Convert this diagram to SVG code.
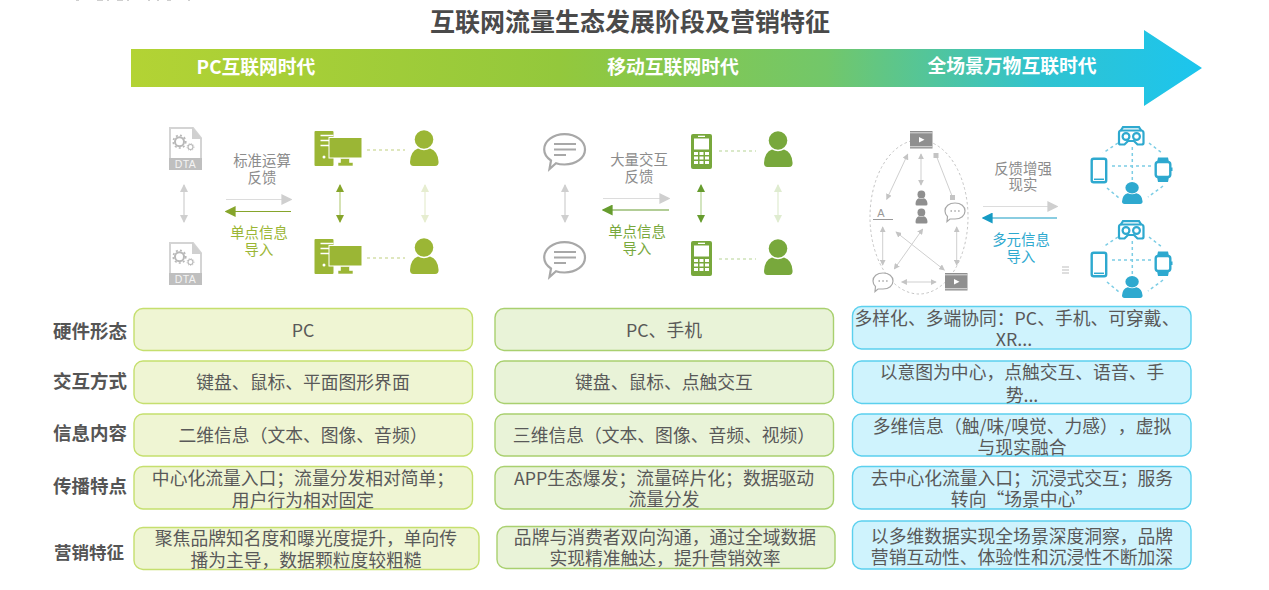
<svg xmlns="http://www.w3.org/2000/svg" width="1269" height="590" viewBox="0 0 1269 590">
<style>
text{font-family:"Noto Sans CJK SC","Noto Sans",sans-serif;text-anchor:middle;text-spacing-trim:space-all}
.title{font-size:25px;font-weight:700;fill:#4a4a4a}
.band{font-size:18.800px;font-weight:700;fill:#fff}
.lab{font-size:18.500px;font-weight:700;fill:#555}
.cell{font-size:17.800px;fill:#595959;transform:translateY(.6px)}
.cap{font-size:14.400px;fill:#8c8c8c}
.g1{fill:#9bb635}.g2{fill:#78a83c}.b{fill:#2ea9cf}
.capg1{font-size:14.400px;fill:#9bb635}.capg2{font-size:14.400px;fill:#78a83c}.capb{font-size:14.400px;fill:#2ea9cf}
.rg{fill:#eff5d3;stroke:#c5df6e;stroke-width:1.400}
.rm{fill:#e9f3d8;stroke:#a9d06f;stroke-width:1.400}
.rb{fill:#cff3fd;stroke:#5bd0ee;stroke-width:1.400}
.ln{fill:none;stroke-width:1.200}
.dot{fill:none;stroke-width:1.200;stroke-dasharray:3 3}
.dotb{fill:none;stroke:#7ccde5;stroke-width:1.500;stroke-dasharray:3 3}
.blue{fill:none;stroke:#2ea9cf;stroke-width:2.200}
</style>
<defs>
<linearGradient id="bandGrad" x1="131" x2="1202" y1="0" y2="0" gradientUnits="userSpaceOnUse">
<stop offset="0" stop-color="#b3d334"/><stop offset=".4" stop-color="#93c83c"/><stop offset=".65" stop-color="#72c76a"/><stop offset=".85" stop-color="#30c3d0"/><stop offset="1" stop-color="#1cc5ee"/>
</linearGradient>
<marker id="mGray" markerUnits="userSpaceOnUse" markerWidth="11" markerHeight="11" refX="7" refY="4" viewBox="0 0 8 8" orient="auto-start-reverse"><path d="M0 0L8 4L0 8Z" fill="#cfcfcf"/></marker>
<marker id="vGray" markerUnits="userSpaceOnUse" markerWidth="8" markerHeight="8" refX="7" refY="4" viewBox="0 0 8 8" orient="auto-start-reverse"><path d="M0 0L8 4L0 8Z" fill="#cfcfcf"/></marker>
<marker id="mSmall" markerUnits="userSpaceOnUse" markerWidth="6" markerHeight="6" refX="7" refY="4" viewBox="0 0 8 8" orient="auto-start-reverse"><path d="M0 0L8 4L0 8Z" fill="#c4c4c4"/></marker>
<marker id="mG1" markerUnits="userSpaceOnUse" markerWidth="11" markerHeight="11" refX="7" refY="4" viewBox="0 0 8 8" orient="auto-start-reverse"><path d="M0 0L8 4L0 8Z" fill="#86a52b"/></marker>
<marker id="vG1" markerUnits="userSpaceOnUse" markerWidth="8" markerHeight="8" refX="7" refY="4" viewBox="0 0 8 8" orient="auto-start-reverse"><path d="M0 0L8 4L0 8Z" fill="#86a52b"/></marker>
<marker id="vG1L" markerUnits="userSpaceOnUse" markerWidth="8" markerHeight="8" refX="7" refY="4" viewBox="0 0 8 8" orient="auto-start-reverse"><path d="M0 0L8 4L0 8Z" fill="#e6edd0"/></marker>
<marker id="mG2" markerUnits="userSpaceOnUse" markerWidth="11" markerHeight="11" refX="7" refY="4" viewBox="0 0 8 8" orient="auto-start-reverse"><path d="M0 0L8 4L0 8Z" fill="#669c2e"/></marker>
<marker id="vG2" markerUnits="userSpaceOnUse" markerWidth="8" markerHeight="8" refX="7" refY="4" viewBox="0 0 8 8" orient="auto-start-reverse"><path d="M0 0L8 4L0 8Z" fill="#669c2e"/></marker>
<marker id="vG2L" markerUnits="userSpaceOnUse" markerWidth="8" markerHeight="8" refX="7" refY="4" viewBox="0 0 8 8" orient="auto-start-reverse"><path d="M0 0L8 4L0 8Z" fill="#dfecd0"/></marker>
<marker id="mB" markerUnits="userSpaceOnUse" markerWidth="11" markerHeight="11" refX="7" refY="4" viewBox="0 0 8 8" orient="auto-start-reverse"><path d="M0 0L8 4L0 8Z" fill="#169bc4"/></marker>
<g id="gear"><circle r="4.500" fill="none" stroke="#b8b8b8" stroke-width="2"/><circle r="6.300" fill="none" stroke="#b8b8b8" stroke-width="1.600" stroke-dasharray="2 2.200"/></g>
<g id="doc">
<path d="M1 1H24L32 11V42H1Z" fill="#fff" stroke="#d4d4d4" stroke-width="2"/>
<path d="M23 0L33 12H23Z" fill="#d0d0d0"/>
<rect y="31" width="33" height="12" fill="#bfbfbf"/>
<use href="#gear" x="10.500" y="14.700"/>
<use href="#gear" transform="translate(21.500 20) scale(.55)"/>
<text x="16.500" y="41.200" style="font-family:'Liberation Sans',sans-serif;font-size:10.500px;letter-spacing:.4px;fill:#f4f4f4">DTA</text>
</g>
<g id="pc" class="g1">
<rect width="19" height="35" rx="1"/>
<path d="M6 4.500H19M6 9.500H19M6 14.500H15" stroke="#fff" stroke-width="1.600" fill="none"/>
<rect x="14.500" y="6.500" width="33" height="20.500" fill="#9bb635" stroke="#fff" stroke-width="1"/>
<path d="M26 27.500H35V31.500H38.500V35H23.500V31.500H26Z" stroke="#fff" stroke-width=".6"/>
<circle cx="9.500" cy="26" r="1.500" fill="#fff"/>
</g>
<g id="person">
<circle cx="14" cy="9.500" r="9.300"/>
<path d="M8 18.500Q14 22 20 18.500Q28 21 28.600 32Q28.600 36 25 36H3.500Q0 36 0 32Q.5 21 8 18.500Z"/>
</g>
<g id="phone">
<rect width="21" height="35" rx="2" class="g2"/>
<rect x="3" y="4.500" width="15" height="11" fill="#fff"/>
<rect x="7" y="1.700" width="7" height="1.300" fill="#fff"/>
<path d="M3 18h4v3h-4zM8.500 18h4v3h-4zM14 18h4v3h-4zM3 22.500h4v3h-4zM8.500 22.500h4v3h-4zM14 22.500h4v3h-4zM3 27h4v3h-4zM8.500 27h4v3h-4zM14 27h4v3h-4z" fill="#fff"/>
</g>
<g id="bubble">
<path d="M21.500 1.200C33 1.200 42 8 42 16.500C42 25 33 31.500 21.500 31.500C18 31.500 15 31 13 30.200L6.500 36L8 27.500C3.500 24.500 1.200 20.800 1.200 16.500C1.200 8 10 1.200 21.500 1.200Z" fill="#fff" stroke="#a8a8a8" stroke-width="2.200"/>
<path d="M11 11H33M11 16.500H33M11 22H23" stroke="#a8a8a8" stroke-width="2" fill="none"/>
</g>
<g id="video">
<rect width="22.500" height="17.500" fill="#8f8f8f"/>
<path d="M0 1.800H22.500M0 15.700H22.500" stroke="#dcdcdc" stroke-width="1"/>
<path d="M9 6L14.500 8.800L9 11.500Z" fill="#fff"/>
</g>
<g id="chat">
<path d="M11 1C17 1 21 4.500 21 9C21 13.500 17 17 11 17L6 17L3 19.500L3.500 14.500C1.800 13 1 11 1 9C1 4.500 5 1 11 1Z" fill="#fff" stroke="#a8a8a8" stroke-width="1.200"/>
<path d="M6.500 9H8M10.300 9H11.800M14.100 9H15.600" stroke="#a8a8a8" stroke-width="1.500" fill="none"/>
</g>
<g id="xr">
<path d="M1120.500 131L1123 127.100H1139L1141.500 131" class="blue"/>
<path d="M1121 130.500H1141Q1143.500 130.500 1143.500 133V143Q1143.500 144.500 1141.500 144.500H1137.500L1134 141H1128L1124.500 144.500H1120.500Q1119 144.500 1119 143V133Q1119 130.500 1121 130.500Z" class="blue"/>
<circle cx="1126" cy="136.500" r="3.400" class="blue"/>
<circle cx="1136.500" cy="136.500" r="3.400" class="blue"/>
<path d="M1118 143L1103 153M1149 143L1162 153M1107 188L1119 198M1163 186L1148 197M1132.300 147V182M1112 166H1153" class="dotb"/>
<rect x="1091.700" y="158.700" width="14.500" height="23.500" rx="2" fill="#fff" stroke="#2ea9cf" stroke-width="2.400"/>
<path d="M1094 179.300H1104" stroke="#2ea9cf" stroke-width="1.500"/>
<path d="M1158 157.500H1168L1169 162H1157ZM1157 177H1169L1168 182H1158Z" class="b"/>
<rect x="1155.700" y="162" width="14.600" height="15" rx="2.500" fill="#fff" stroke="#2ea9cf" stroke-width="2.400"/>
<path d="M1171 167.500H1172.500V171H1171Z" class="b"/>
<use href="#person" transform="translate(1122 182) scale(.72 .61)" class="b"/>
</g>
</defs>

<path id="top-edge-specks" d="M76 0h3v1h-3zM97 0h6v1h-6zM107 0h2v1h-2zM117 0h6v1h-6zM127 0h2v1h-2zM148 0h2v1h-2zM157 0h2v1h-2zM167 0h4v1h-4zM188 0h2v1h-2z" fill="#cfcfcf"/>

<g id="title"><text class="title" x="630" y="31">互联网流量生态发展阶段及营销特征</text></g>
<g id="band">
<path d="M131 49H1144V30L1202 68L1144 106V87H131Z" fill="url(#bandGrad)"/>
<text class="band" x="256" y="74">PC互联网时代</text>
<text class="band" x="673" y="74">移动互联网时代</text>
<text class="band" x="1012" y="73">全场景万物互联时代</text>
</g>

<g id="connectors">
<path d="M184 185V222" class="ln" stroke="#cfcfcf" marker-start="url(#vGray)" marker-end="url(#vGray)"/>
<path d="M340 185V222" class="ln" stroke="#b9cf80" stroke-width="1.500" marker-start="url(#vG1)" marker-end="url(#vG1)"/>
<path d="M425 185V222" class="ln" stroke="#e6edd0" marker-start="url(#vG1L)" marker-end="url(#vG1L)"/>
<path d="M226 199.500H291" class="ln" stroke="#dcdcdc" stroke-width="1.500" marker-end="url(#mGray)"/>
<path d="M291 211.500H226" class="ln" stroke="#86a52b" stroke-width="1.500" marker-end="url(#mG1)"/>
<path d="M367 150H405M367 258H405" class="dot" stroke="#bfd07e"/>
<path d="M565 185V222" class="ln" stroke="#cfcfcf" marker-start="url(#vGray)" marker-end="url(#vGray)"/>
<path d="M701 185V222" class="ln" stroke="#b5d394" stroke-width="1.500" marker-start="url(#vG2)" marker-end="url(#vG2)"/>
<path d="M778 185V222" class="ln" stroke="#dfecd0" marker-start="url(#vG2L)" marker-end="url(#vG2L)"/>
<path d="M603 198.500H669" class="ln" stroke="#dcdcdc" stroke-width="1.500" marker-end="url(#mGray)"/>
<path d="M669 210H603" class="ln" stroke="#669c2e" stroke-width="1.500" marker-end="url(#mG2)"/>
<path d="M719 151H756M719 259H756" class="dot" stroke="#b5d394"/>
<path d="M983 206.500H1057" class="ln" stroke="#dcdcdc" stroke-width="1.500" marker-end="url(#mGray)"/>
<path d="M1057 218H983" class="ln" stroke="#169bc4" stroke-width="1.500" marker-end="url(#mB)"/>
<g stroke="#cfcfcf" fill="none" stroke-width="1">
<ellipse cx="919" cy="217" rx="49" ry="77" stroke="#c4c4c4" stroke-dasharray="2.500 2.500"/>
<path d="M907.700 154.300L886.700 199.300" marker-start="url(#mSmall)" marker-end="url(#mSmall)"/>
<path d="M921 154V185" marker-start="url(#mSmall)" marker-end="url(#mSmall)"/>
<path d="M936 155L952.700 197.700"/>
<path d="M882.700 227V265" marker-start="url(#mSmall)" marker-end="url(#mSmall)"/>
<path d="M956.700 227V265" marker-start="url(#mSmall)" marker-end="url(#mSmall)"/>
<path d="M922.700 229L894.300 269" marker-start="url(#mSmall)" marker-end="url(#mSmall)"/>
<path d="M896 232L944.300 270" marker-start="url(#mSmall)" marker-end="url(#mSmall)"/>
<path d="M901.700 282H936" marker-start="url(#mSmall)" marker-end="url(#mSmall)"/>
</g>
</g>

<g id="era-pc">
<use href="#doc" x="169" y="127"/>
<use href="#doc" x="169" y="242"/>
<use href="#pc" x="314.500" y="131"/>
<use href="#pc" x="314.500" y="239"/>
<use href="#person" x="410" y="130" class="g1"/>
<use href="#person" x="410" y="238" class="g1"/>
<text class="cap" x="262" y="166">标准运算</text>
<text class="cap" x="262" y="183">反馈</text>
<text class="capg1" x="259" y="238">单点信息</text>
<text class="capg1" x="259" y="255">导入</text>
</g>
<g id="era-mobile">
<use href="#bubble" x="543" y="133"/>
<use href="#bubble" x="543" y="241"/>
<use href="#phone" x="691" y="134"/>
<use href="#phone" x="691" y="241"/>
<use href="#person" x="764" y="131" class="g2"/>
<use href="#person" x="764" y="239" class="g2"/>
<text class="cap" x="639" y="165">大量交互</text>
<text class="cap" x="639" y="182">反馈</text>
<text class="capg2" x="637" y="237">单点信息</text>
<text class="capg2" x="637" y="254">导入</text>
</g>
<g id="era-scene">
<use href="#video" x="910" y="131"/>
<use href="#video" x="945" y="273"/>
<use href="#chat" x="944" y="202"/>
<use href="#chat" x="872" y="272"/>
<rect x="933.500" y="153" width="5" height="5" fill="#c4c4c4"/>
<rect x="950" y="195" width="5" height="5" fill="#c4c4c4"/>
<text x="881" y="217" style="font-family:'Liberation Sans',sans-serif;font-size:11px;fill:#999">A</text>
<path d="M873 219.500H893" stroke="#999" stroke-width="1"/>
<use href="#person" transform="translate(915.500 190.500) scale(.42)" fill="#8f8f8f"/>
<use href="#person" transform="translate(915.500 208.500) scale(.42)" fill="#8f8f8f"/>
<use href="#xr"/>
<use href="#xr" y="94"/>
<text class="cap" x="1023" y="174">反馈增强</text>
<text class="cap" x="1023" y="190">现实</text>
<text class="capb" x="1021" y="245">多元信息</text>
<text class="capb" x="1021" y="262">导入</text>
<path d="M1062 267H1069M1062 270H1069M1062 273H1069" stroke="#bdbdbd" stroke-width="1"/>
</g>

<g id="row-hardware">
<text class="lab" x="90" y="338">硬件形态</text>
<rect class="rg" x="134" y="308.500" width="338.500" height="42" rx="9"/>
<text class="cell" x="303" y="336">PC</text>
<rect class="rm" x="495" y="308.500" width="338.500" height="42" rx="9"/>
<text class="cell" x="664" y="336">PC、手机</text>
<rect class="rb" x="852.500" y="306.500" width="338.500" height="42.500" rx="9"/>
<text class="cell"><tspan x="1017" y="324">多样化、多端协同：PC、手机、可穿戴、</tspan><tspan x="1014" y="345">XR...</tspan></text>
</g>
<g id="row-interaction">
<text class="lab" x="90" y="388">交互方式</text>
<rect class="rg" x="134" y="361" width="338.500" height="42.500" rx="9"/>
<text class="cell" x="303" y="388">键盘、鼠标、平面图形界面</text>
<rect class="rm" x="495" y="361" width="338.500" height="42.500" rx="9"/>
<text class="cell" x="664" y="388">键盘、鼠标、点触交互</text>
<rect class="rb" x="852.500" y="361" width="338.500" height="42.500" rx="9"/>
<text class="cell"><tspan x="1022" y="378.500">以意图为中心，点触交互、语音、手</tspan><tspan x="1022" y="401">势...</tspan></text>
</g>
<g id="row-info">
<text class="lab" x="90" y="440">信息内容</text>
<rect class="rg" x="134" y="414" width="338.500" height="42" rx="9"/>
<text class="cell" x="303" y="441">二维信息（文本、图像、音频）</text>
<rect class="rm" x="495" y="414" width="338.500" height="42" rx="9"/>
<text class="cell" x="664" y="441">三维信息（文本、图像、音频、视频）</text>
<rect class="rb" x="852.500" y="414" width="338.500" height="42" rx="9"/>
<text class="cell"><tspan x="1022" y="432">多维信息（触/味/嗅觉、力感），虚拟</tspan><tspan x="1022" y="453">与现实融合</tspan></text>
</g>
<g id="row-spread">
<text class="lab" x="90" y="493">传播特点</text>
<rect class="rg" x="134" y="466.500" width="338.500" height="42.500" rx="9"/>
<text class="cell"><tspan x="303" y="484">中心化流量入口；流量分发相对简单；</tspan><tspan x="303" y="506">用户行为相对固定</tspan></text>
<rect class="rm" x="495" y="466.500" width="338.500" height="42.500" rx="9"/>
<text class="cell"><tspan x="664" y="484">APP生态爆发；流量碎片化；数据驱动</tspan><tspan x="664" y="505">流量分发</tspan></text>
<rect class="rb" x="852.500" y="466.500" width="338.500" height="42.500" rx="9"/>
<text class="cell"><tspan x="1022" y="484">去中心化流量入口；沉浸式交互；服务</tspan><tspan x="1022" y="505">转向“场景中心”</tspan></text>
</g>
<g id="row-marketing">
<text class="lab" x="89" y="559" style="font-size:17.500px">营销特征</text>
<rect class="rg" x="134" y="527.500" width="345" height="42" rx="9"/>
<text class="cell"><tspan x="306" y="544">聚焦品牌知名度和曝光度提升，单向传</tspan><tspan x="306" y="566">播为主导，数据颗粒度较粗糙</tspan></text>
<rect class="rm" x="497" y="526.500" width="338" height="42" rx="9"/>
<text class="cell"><tspan x="665" y="543">品牌与消费者双向沟通，通过全域数据</tspan><tspan x="665" y="564">实现精准触达，提升营销效率</tspan></text>
<rect class="rb" x="852.500" y="521" width="338.500" height="48" rx="9"/>
<text class="cell"><tspan x="1022" y="542">以多维数据实现全场景深度洞察，品牌</tspan><tspan x="1022" y="563">营销互动性、体验性和沉浸性不断加深</tspan></text>
</g>
</svg>
